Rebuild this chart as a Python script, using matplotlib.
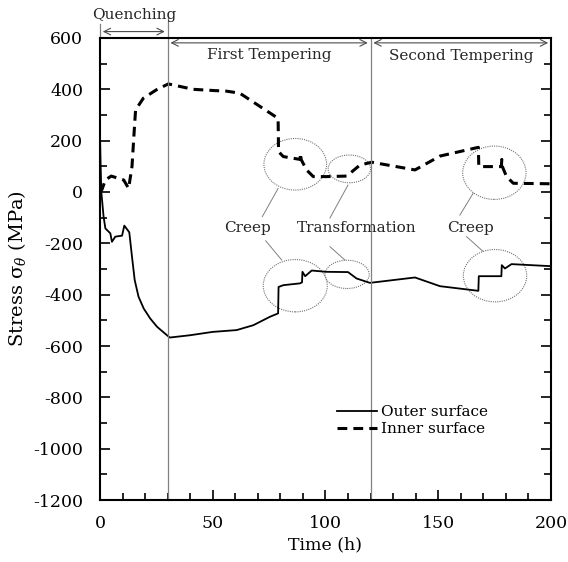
import matplotlib
matplotlib.use("Agg")
import matplotlib.pyplot as plt
from matplotlib.patches import Ellipse
from matplotlib.ticker import MultipleLocator

# outer surface (solid)
t_outer = [0, 0.3, 0.6, 1.6, 2.4, 4.6, 5.3, 6.8, 9.8, 10.8, 13.0, 14.2, 15.4, 17.1,
           19.4, 22.3, 25.3, 29.7, 31.0, 40, 50, 60.6, 68, 75.4, 79.0, 79.2, 81.3,
           88.7, 89.6, 89.8, 91.0, 93.9, 100.5, 110, 113.8, 119.7, 139.7, 150.8,
           167.8, 168.0, 178.0, 178.2, 179.6, 182.5, 200]
s_outer = [230, 100, 0, -96, -142, -161, -194, -174, -170, -131, -157, -252, -343, -408,
           -454, -493, -525, -558, -567, -558, -545, -538, -519, -486, -473, -370, -363,
           -356, -352, -311, -328, -306, -311, -312, -337, -354, -333, -367,
           -385, -328, -328, -285, -298, -281, -289]

# inner surface (dashed)
t_inner = [0, 0.9, 2.4, 5.0, 10.5, 12.7, 14.2, 15.4, 15.8, 19.2, 25, 30.3, 41.4, 51,
           56, 62, 71, 79.0, 79.2, 81.3, 88.7, 89.0, 89.2, 91.6, 94.6, 100.5, 109.4,
           115.3, 120.5, 139.7, 150.8, 167.8, 168.0, 178.0, 178.2, 178.4, 180.3, 183.3, 200]
s_inner = [0, 10, 47, 62, 47, 14, 99, 268, 320, 365, 398, 421, 400, 395,
           393, 385, 333, 287, 157, 138, 127, 151, 127, 86, 60, 60, 62,
           105, 116, 86, 140, 174, 99, 99, 127, 100, 60, 34, 32]

# dotted ellipses: (center t, center stress, width h, height MPa)
ellipses = [(86.6, 108, 27.8, 201), (110.6, 90, 18.8, 108), (174.9, 75, 28.1, 208),
            (86.6, -365, 28.4, 204), (109.6, -321, 19.6, 110), (175.2, -326, 28.1, 204)]
labels = [("Creep", 65.4), ("Transformation", 114), ("Creep", 164.3)]
leaders = [((79, 14), (72, -96)), ((73.5, -190), (80.6, -265)),
           ((110, 27), (102, -101)), ((102, -213), (108.6, -265)),
           ((165.5, -5), (159.6, -90)), ((162.6, -174), (169.7, -230))]

plt.rcParams["font.family"] = "DejaVu Serif"
plt.rcParams["mathtext.fontset"] = "dejavuserif"
plt.rcParams["axes.unicode_minus"] = False

fig = plt.figure(figsize=(5.68, 5.62), dpi=100)
ax = fig.add_axes([0.176, 0.1103, 0.794, 0.8221])

ax.plot(t_outer, s_outer, color="black", lw=1.3, label="Outer surface")
ax.plot(t_inner, s_inner, color="black", lw=2.2, linestyle=(0, (3.2, 2.0)),
        label="Inner surface")

for cx, cy, w, h in ellipses:
    ax.add_patch(Ellipse((cx, cy), w, h, fill=False, edgecolor="0.45",
                         linestyle=(0, (1, 1)), lw=0.8))
for (x0, y0), (x1, y1) in leaders:
    ax.plot([x0, x1], [y0, y1], color="0.5", lw=0.7)
for txt, x in labels:
    ax.text(x, -140, txt, ha="center", va="center", fontsize=11, color="0.15")

# phase markers
grey = "0.5"
ax.plot([30, 30], [-1200, 680], color=grey, lw=0.9, clip_on=False)
ax.plot([120, 120], [-1200, 600], color=grey, lw=0.9)
ax.plot([0, 0], [600, 655], color=grey, lw=0.9, clip_on=False)
arrow = dict(arrowstyle="<->", color="0.3", lw=0.8, mutation_scale=12)
ax.annotate("", xy=(0, 625), xytext=(30, 625), arrowprops=arrow, annotation_clip=False)
ax.annotate("", xy=(30, 581), xytext=(120, 581), arrowprops=arrow)
ax.annotate("", xy=(120, 581), xytext=(200, 581), arrowprops=arrow)
ax.text(15, 690, "Quenching", ha="center", va="center", fontsize=11, color="0.15")
ax.text(75, 535, "First Tempering", ha="center", va="center", fontsize=11, color="0.15")
ax.text(160.4, 528, "Second Tempering", ha="center", va="center", fontsize=11,
        color="0.15")

ax.set_xlim(0, 200)
ax.set_ylim(-1200, 600)
ax.xaxis.set_major_locator(MultipleLocator(50))
ax.xaxis.set_minor_locator(MultipleLocator(10))
ax.yaxis.set_major_locator(MultipleLocator(200))
ax.yaxis.set_minor_locator(MultipleLocator(100))
ax.tick_params(which="both", direction="in", right=True, top=False, labelsize=12.5,
               width=1.2)
ax.tick_params(axis="y", pad=12)
ax.tick_params(axis="x", pad=11)
ax.tick_params(which="major", length=7)
ax.tick_params(which="minor", length=5)
for sp in ax.spines.values():
    sp.set_linewidth(1.5)

ax.set_xlabel("Time (h)", fontsize=12.5, labelpad=3)
ax.set_ylabel(r"Stress σ$_\theta$ (MPa)", fontsize=14, labelpad=4)

ax.legend(loc="lower right", bbox_to_anchor=(0.875, 0.125), frameon=False, fontsize=11,
          handlelength=2.6, handletextpad=0.3, labelspacing=0.2, borderaxespad=0)

fig.savefig("out.png", dpi=100)
